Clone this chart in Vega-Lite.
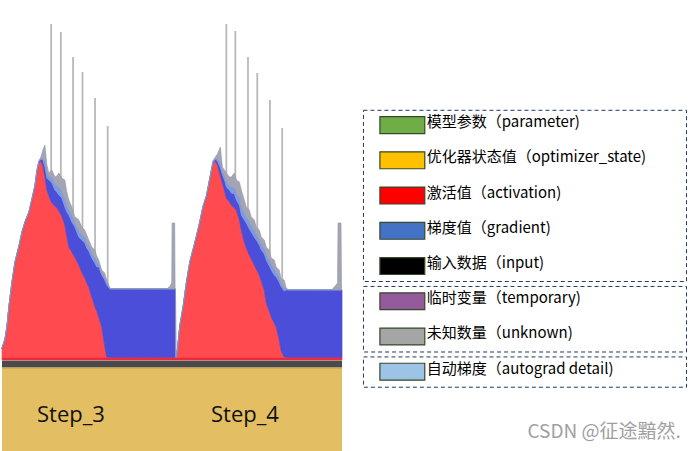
{
  "$schema": "https://vega.github.io/schema/vega-lite/v6.json",
  "width": 693,
  "height": 451,
  "autosize": {"type": "fit", "contains": "padding"},
  "padding": 0,
  "background": "white",
  "config": {"view": {"stroke": null}},
  "datasets": {
    "memory": [
      {"t":0,"activation":11,"gradient":1,"autograd":0,"unknown":0.5},
      {"t":3,"activation":20,"gradient":1,"autograd":0,"unknown":0.5},
      {"t":5,"activation":33,"gradient":1,"autograd":0,"unknown":0.5},
      {"t":7,"activation":53,"gradient":1,"autograd":0,"unknown":0.5},
      {"t":10,"activation":77,"gradient":1,"autograd":0,"unknown":0.5},
      {"t":13,"activation":97,"gradient":1,"autograd":0,"unknown":0.5},
      {"t":17,"activation":113,"gradient":1,"autograd":0,"unknown":0.5},
      {"t":20,"activation":127,"gradient":1,"autograd":0,"unknown":0.5},
      {"t":23,"activation":137,"gradient":1,"autograd":0,"unknown":0.5},
      {"t":27,"activation":147,"gradient":1,"autograd":0,"unknown":0.5},
      {"t":30,"activation":160,"gradient":1,"autograd":0,"unknown":0.5},
      {"t":33,"activation":173,"gradient":1,"autograd":0,"unknown":1},
      {"t":35,"activation":188,"gradient":1,"autograd":0,"unknown":1},
      {"t":37,"activation":197,"gradient":1.5,"autograd":0,"unknown":1},
      {"t":39,"activation":199,"gradient":2,"autograd":0,"unknown":2},
      {"t":41,"activation":194,"gradient":6,"autograd":2,"unknown":8},
      {"t":43,"activation":183,"gradient":10,"autograd":6,"unknown":16},
      {"t":45,"activation":170,"gradient":12,"autograd":5,"unknown":8},
      {"t":47,"activation":164,"gradient":16,"autograd":4,"unknown":3},
      {"t":50,"activation":157,"gradient":20,"autograd":5,"unknown":8},
      {"t":53,"activation":154,"gradient":16,"autograd":5,"unknown":8},
      {"t":55,"activation":152,"gradient":16,"autograd":6,"unknown":10},
      {"t":57,"activation":149,"gradient":16,"autograd":8,"unknown":14},
      {"t":60,"activation":144,"gradient":18,"autograd":6,"unknown":14},
      {"t":63,"activation":135,"gradient":18,"autograd":8,"unknown":19},
      {"t":65,"activation":124,"gradient":24,"autograd":6,"unknown":14},
      {"t":67,"activation":113,"gradient":32,"autograd":5,"unknown":10},
      {"t":70,"activation":108,"gradient":30,"autograd":6,"unknown":9},
      {"t":73,"activation":103,"gradient":30,"autograd":4,"unknown":6},
      {"t":75,"activation":99,"gradient":29,"autograd":5,"unknown":9},
      {"t":77,"activation":95,"gradient":28,"autograd":6,"unknown":11},
      {"t":80,"activation":88,"gradient":32,"autograd":5,"unknown":8},
      {"t":83,"activation":82,"gradient":35,"autograd":5,"unknown":8},
      {"t":85,"activation":77,"gradient":35,"autograd":4,"unknown":9},
      {"t":87,"activation":73,"gradient":36,"autograd":5,"unknown":6},
      {"t":90,"activation":63,"gradient":39,"autograd":5,"unknown":6},
      {"t":93,"activation":54,"gradient":43,"autograd":5,"unknown":8},
      {"t":95,"activation":49,"gradient":44,"autograd":5,"unknown":6},
      {"t":97,"activation":43,"gradient":50,"autograd":3,"unknown":4},
      {"t":100,"activation":33,"gradient":52,"autograd":2,"unknown":3},
      {"t":103,"activation":14,"gradient":66,"autograd":3,"unknown":4},
      {"t":105,"activation":3,"gradient":72,"autograd":2,"unknown":3},
      {"t":107,"activation":2.5,"gradient":70,"autograd":1,"unknown":1.5},
      {"t":108.5,"activation":2.5,"gradient":68.5,"autograd":0,"unknown":0.5},
      {"t":130,"activation":2.5,"gradient":68.5,"autograd":0,"unknown":0.5},
      {"t":150,"activation":2.5,"gradient":68.5,"autograd":0,"unknown":0.5},
      {"t":166,"activation":2.5,"gradient":68.5,"autograd":0,"unknown":0.5},
      {"t":168.5,"activation":2.5,"gradient":68.5,"autograd":0,"unknown":3},
      {"t":170.2,"activation":2.5,"gradient":68.5,"autograd":0,"unknown":6},
      {"t":170.6,"activation":2.5,"gradient":68.5,"autograd":0,"unknown":66},
      {"t":173.2,"activation":2.5,"gradient":68.5,"autograd":0,"unknown":66},
      {"t":173.6,"activation":2.5,"gradient":68.5,"autograd":0,"unknown":0.5},
      {"t":174,"activation":2.5,"gradient":68.5,"autograd":0,"unknown":0},
      {"t":174.2,"activation":2.5,"gradient":0,"autograd":0,"unknown":0},
      {"t":175,"activation":2.5,"gradient":0,"autograd":0,"unknown":0},
      {"t":176.5,"activation":15,"gradient":1,"autograd":0,"unknown":0.5},
      {"t":178.3,"activation":33,"gradient":1,"autograd":0,"unknown":0.5},
      {"t":181.7,"activation":53,"gradient":1,"autograd":0,"unknown":0.5},
      {"t":185,"activation":77,"gradient":1,"autograd":0,"unknown":0.5},
      {"t":188.3,"activation":97,"gradient":1,"autograd":0,"unknown":0.5},
      {"t":191.7,"activation":110,"gradient":1,"autograd":0,"unknown":0.5},
      {"t":195,"activation":123,"gradient":1,"autograd":0,"unknown":0.5},
      {"t":198.3,"activation":137,"gradient":1,"autograd":0,"unknown":0.5},
      {"t":201.7,"activation":153,"gradient":1,"autograd":0,"unknown":0.5},
      {"t":205,"activation":163,"gradient":1,"autograd":0,"unknown":1},
      {"t":208.3,"activation":180,"gradient":1,"autograd":0,"unknown":1},
      {"t":211.7,"activation":197,"gradient":1.5,"autograd":0,"unknown":1},
      {"t":214,"activation":199,"gradient":2,"autograd":0,"unknown":2},
      {"t":216,"activation":195,"gradient":4,"autograd":2,"unknown":5},
      {"t":219,"activation":184,"gradient":8,"autograd":6,"unknown":15},
      {"t":221,"activation":177,"gradient":8,"autograd":3,"unknown":5},
      {"t":223,"activation":170,"gradient":10,"autograd":4,"unknown":6},
      {"t":225,"activation":162,"gradient":11,"autograd":5,"unknown":9},
      {"t":228,"activation":158,"gradient":12,"autograd":5,"unknown":8},
      {"t":230,"activation":155,"gradient":12,"autograd":6,"unknown":10},
      {"t":233,"activation":152,"gradient":14,"autograd":6,"unknown":15},
      {"t":235,"activation":150,"gradient":10,"autograd":6,"unknown":14},
      {"t":238,"activation":140,"gradient":15,"autograd":8,"unknown":15},
      {"t":240,"activation":130,"gradient":15,"autograd":8,"unknown":17},
      {"t":243,"activation":118,"gradient":22,"autograd":7,"unknown":13},
      {"t":245,"activation":112,"gradient":25,"autograd":6,"unknown":10},
      {"t":248,"activation":105,"gradient":26,"autograd":7,"unknown":12},
      {"t":250,"activation":101,"gradient":27,"autograd":6,"unknown":9},
      {"t":253,"activation":95,"gradient":28,"autograd":7,"unknown":10},
      {"t":255,"activation":91,"gradient":29,"autograd":5,"unknown":8},
      {"t":258,"activation":85,"gradient":30,"autograd":6,"unknown":9},
      {"t":260,"activation":79,"gradient":31,"autograd":5,"unknown":8},
      {"t":263,"activation":70,"gradient":36,"autograd":6,"unknown":8},
      {"t":265,"activation":57,"gradient":43,"autograd":5,"unknown":8},
      {"t":268,"activation":49,"gradient":45,"autograd":6,"unknown":10},
      {"t":270,"activation":43,"gradient":47,"autograd":5,"unknown":7},
      {"t":273,"activation":37,"gradient":48,"autograd":6,"unknown":9},
      {"t":275,"activation":33,"gradient":50,"autograd":4,"unknown":6},
      {"t":278,"activation":20,"gradient":58,"autograd":5,"unknown":7},
      {"t":280,"activation":9,"gradient":64,"autograd":3,"unknown":5},
      {"t":283,"activation":3,"gradient":66,"autograd":4,"unknown":7},
      {"t":285,"activation":2.5,"gradient":67.5,"autograd":1,"unknown":1},
      {"t":287,"activation":2.5,"gradient":67.5,"autograd":0,"unknown":0.5},
      {"t":310,"activation":2.5,"gradient":67.5,"autograd":0,"unknown":0.5},
      {"t":331,"activation":2.5,"gradient":67.5,"autograd":0,"unknown":0.5},
      {"t":335,"activation":2.5,"gradient":67.5,"autograd":0,"unknown":5},
      {"t":336.5,"activation":2.5,"gradient":67.5,"autograd":0,"unknown":7},
      {"t":337,"activation":2.5,"gradient":67.5,"autograd":0,"unknown":67},
      {"t":340,"activation":2.5,"gradient":67.5,"autograd":0,"unknown":67},
      {"t":340.5,"activation":2.5,"gradient":67.5,"autograd":0,"unknown":0.5},
      {"t":341,"activation":2.5,"gradient":67.5,"autograd":0,"unknown":0.5}
    ],
    "spikes": [
      {"t":49.3,"top":336},{"t":59,"top":328},{"t":71.3,"top":303},{"t":80.7,"top":288},{"t":93.3,"top":262},{"t":106,"top":234},
      {"t":225,"top":336},{"t":234,"top":329},{"t":246.7,"top":303},{"t":256,"top":287},{"t":268.7,"top":260},{"t":281,"top":232}
    ],
    "steps": [
      {"step":"Step_3","start":0,"end":174.5},
      {"step":"Step_4","start":174.5,"end":341}
    ],
    "legend": [
      {"rank":0,"group":1,"label":"模型参数（parameter)"},
      {"rank":1,"group":1,"label":"优化器状态值（optimizer_state)"},
      {"rank":2,"group":1,"label":"激活值（activation)"},
      {"rank":3,"group":1,"label":"梯度值（gradient)"},
      {"rank":4,"group":1,"label":"输入数据（input)"},
      {"rank":5,"group":2,"label":"临时变量（temporary)"},
      {"rank":6,"group":2,"label":"未知数量（unknown)"},
      {"rank":7,"group":3,"label":"自动梯度（autograd detail)"}
    ],
    "mark": [{"text":"CSDN @征途黯然."}]
  },
  "layer": [
    {
      "layer": [
        {
          "data": {"name": "steps"},
          "mark": {"type": "rect", "color": "#E4BE62"},
          "encoding": {
            "x": {"field": "start", "type": "quantitative", "scale": {"domain": [0, 693], "nice": false, "zero": false}, "axis": null},
            "x2": {"field": "end"},
            "y": {"datum": -8, "type": "quantitative", "scale": {"domain": [-91, 360], "nice": false, "zero": false}, "axis": null},
            "y2": {"datum": -91}
          }
        },
        {
          "data": {"name": "steps"},
          "mark": {"type": "rect", "color": "#4A4A4A"},
          "encoding": {
            "x": {"field": "start", "type": "quantitative", "scale": {"domain": [0, 693], "nice": false, "zero": false}, "axis": null},
            "x2": {"field": "end"},
            "y": {"datum": -0.5, "type": "quantitative", "scale": {"domain": [-91, 360], "nice": false, "zero": false}, "axis": null},
            "y2": {"datum": -7.5}
          }
        },
        {
          "data": {"name": "steps"},
          "mark": {"type": "rect", "color": "#B99A4C"},
          "encoding": {
            "x": {"field": "start", "type": "quantitative", "scale": {"domain": [0, 693], "nice": false, "zero": false}, "axis": null},
            "x2": {"field": "end"},
            "y": {"datum": -7.5, "type": "quantitative", "scale": {"domain": [-91, 360], "nice": false, "zero": false}, "axis": null},
            "y2": {"datum": -8.5}
          }
        },
        {
          "data": {"name": "steps"},
          "mark": {"type": "text", "align": "left", "baseline": "alphabetic", "dx": 35, "fontSize": 22, "font": "Open Sans", "color": "#111111"},
          "encoding": {
            "x": {"field": "start", "type": "quantitative", "scale": {"domain": [0, 693], "nice": false, "zero": false}, "axis": null},
            "y": {"datum": -61.7, "type": "quantitative", "scale": {"domain": [-91, 360], "nice": false, "zero": false}, "axis": null},
            "text": {"field": "step"}
          }
        },
        {
          "data": {"name": "spikes"},
          "mark": {"type": "rule", "color": "#B8B8B8", "strokeWidth": 1.8},
          "encoding": {
            "x": {"field": "t", "type": "quantitative", "scale": {"domain": [0, 693], "nice": false, "zero": false}, "axis": null},
            "y": {"field": "top", "type": "quantitative", "scale": {"domain": [-91, 360], "nice": false, "zero": false}, "axis": null},
            "y2": {"datum": 0}
          }
        },
        {
          "data": {"name": "memory"},
          "transform": [
            {"fold": ["activation", "gradient", "autograd", "unknown"], "as": ["series", "mb"]},
            {"calculate": "indexof(['activation','gradient','autograd','unknown'], datum.series)", "as": "ord"}
          ],
          "mark": {"type": "area", "strokeWidth": 0.6, "interpolate": "linear"},
          "encoding": {
            "x": {"field": "t", "type": "quantitative", "scale": {"domain": [0, 693], "nice": false, "zero": false}, "axis": null},
            "y": {"field": "mb", "type": "quantitative", "stack": "zero", "scale": {"domain": [-91, 360], "nice": false, "zero": false}, "axis": null},
            "color": {"field": "series", "type": "nominal", "scale": {"domain": ["activation", "gradient", "autograd", "unknown"], "range": ["#FF4A4F", "#4B4ED8", "#7C9BE3", "#A3A6B2"]}, "legend": null},
            "stroke": {"field": "series", "type": "nominal", "scale": {"domain": ["activation", "gradient", "autograd", "unknown"], "range": ["#FF4A4F", "#4346CC", "#7C9BE3", "#8E94AE"]}, "legend": null},
            "order": {"field": "ord", "type": "quantitative"}
          }
        },
        {
          "data": {"name": "steps"},
          "mark": {"type": "rect", "color": "#EC2A3C"},
          "encoding": {
            "x": {"field": "start", "type": "quantitative", "scale": {"domain": [0, 693], "nice": false, "zero": false}, "axis": null},
            "x2": {"field": "end"},
            "y": {"datum": 0, "type": "quantitative", "scale": {"domain": [-91, 360], "nice": false, "zero": false}, "axis": null},
            "y2": {"datum": 2.3}
          }
        },
        {
          "data": {"name": "mark"},
          "mark": {"type": "text", "align": "left", "baseline": "alphabetic", "fontSize": 19, "font": "Noto Sans CJK SC", "color": "#A0A0A0"},
          "encoding": {
            "x": {"datum": 527, "type": "quantitative", "scale": {"domain": [0, 693], "nice": false, "zero": false}, "axis": null},
            "y": {"datum": -78, "type": "quantitative", "scale": {"domain": [-91, 360], "nice": false, "zero": false}, "axis": null},
            "text": {"field": "text"}
          }
        }
      ]
    },
    {
      "layer": [
        {
          "data": {"name": "legend"},
          "transform": [
            {"aggregate": [{"op": "min", "field": "rank", "as": "r0"}, {"op": "max", "field": "rank", "as": "r1"}], "groupby": ["group"]},
            {"calculate": "datum.r0 - 0.42", "as": "boxTop"},
            {"calculate": "datum.r1 + 0.44", "as": "boxBottom"}
          ],
          "mark": {"type": "rect", "filled": false, "stroke": "#203864", "strokeWidth": 1, "strokeDash": [4, 3]},
          "encoding": {
            "x": {"datum": 362.5, "type": "quantitative", "scale": {"domain": [0, 693], "nice": false, "zero": false}, "axis": null},
            "x2": {"datum": 686.5},
            "y": {"field": "boxTop", "type": "quantitative", "scale": {"domain": [-3.55, 9.25], "reverse": true, "nice": false, "zero": false}, "axis": null},
            "y2": {"field": "boxBottom"}
          }
        },
        {
          "data": {"name": "legend"},
          "transform": [
            {"calculate": "datum.rank - 0.24", "as": "s0"},
            {"calculate": "datum.rank + 0.24", "as": "s1"}
          ],
          "mark": {"type": "rect", "stroke": "#34492A", "strokeWidth": 1.2},
          "encoding": {
            "x": {"datum": 379, "type": "quantitative", "scale": {"domain": [0, 693], "nice": false, "zero": false}, "axis": null},
            "x2": {"datum": 424},
            "y": {"field": "s0", "type": "quantitative", "scale": {"domain": [-3.55, 9.25], "reverse": true, "nice": false, "zero": false}, "axis": null},
            "y2": {"field": "s1"},
            "color": {
              "field": "label", "type": "nominal", "legend": null,
              "scale": {
                "domain": ["模型参数（parameter)", "优化器状态值（optimizer_state)", "激活值（activation)", "梯度值（gradient)", "输入数据（input)", "临时变量（temporary)", "未知数量（unknown)", "自动梯度（autograd detail)"],
                "range": ["#70AD47", "#FFC000", "#FF0000", "#4472C4", "#000000", "#955A9C", "#A5A5A5", "#9DC3E6"]
              }
            }
          }
        },
        {
          "data": {"name": "legend"},
          "mark": {"type": "text", "align": "left", "baseline": "middle", "dy": -3, "fontSize": 15, "font": "Noto Sans CJK SC", "color": "#000000"},
          "encoding": {
            "x": {"datum": 426, "type": "quantitative", "scale": {"domain": [0, 693], "nice": false, "zero": false}, "axis": null},
            "y": {"field": "rank", "type": "quantitative", "scale": {"domain": [-3.55, 9.25], "reverse": true, "nice": false, "zero": false}, "axis": null},
            "text": {"field": "label"}
          }
        }
      ]
    }
  ],
  "resolve": {"scale": {"y": "independent", "color": "independent"}}
}
